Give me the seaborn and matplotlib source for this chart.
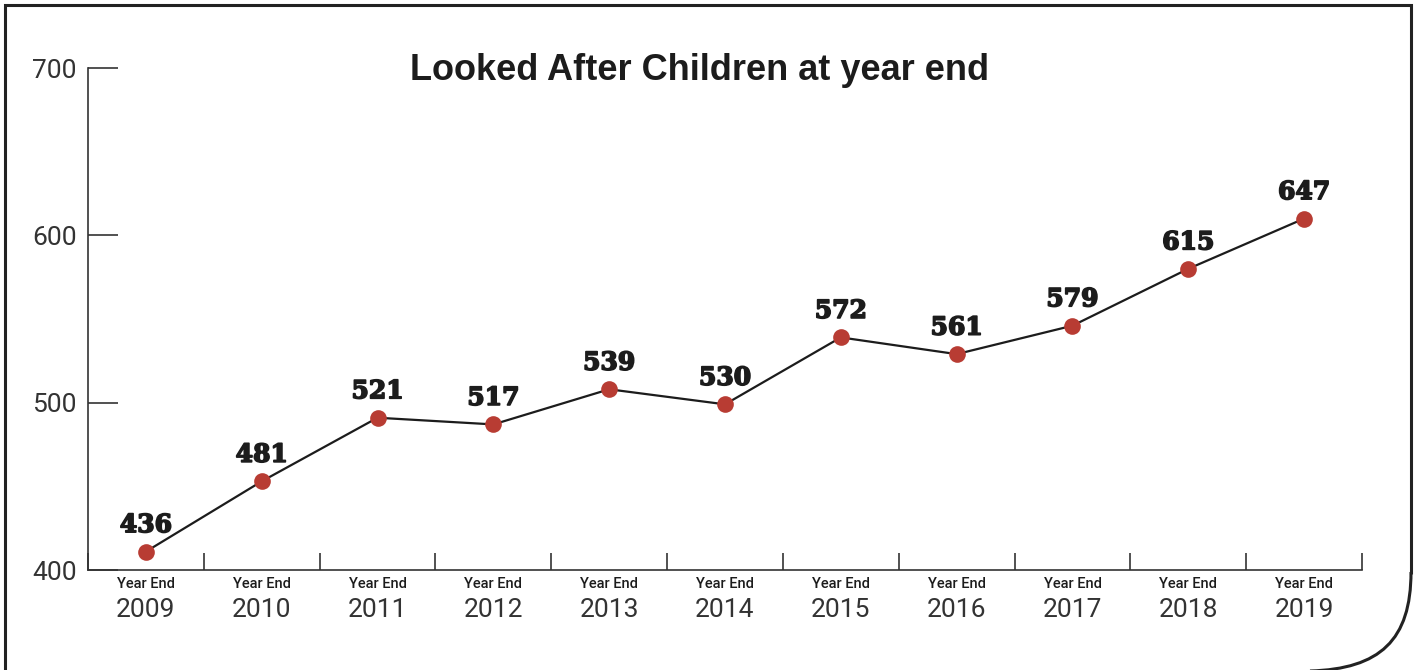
import seaborn as sns
import matplotlib.pyplot as plt
import matplotlib.patheffects as pe
import numpy as np
import pandas as pd
from matplotlib.path import Path
from matplotlib.patches import PathPatch
from matplotlib.lines import Line2D
from matplotlib.transforms import blended_transform_factory

# data
years = ['2009', '2010', '2011', '2012', '2013', '2014', '2015', '2016', '2017', '2018', '2019']
# where the dots sit on the axis
plotted = [411, 453, 491, 487, 508, 499, 539, 529, 546, 580, 610]
# the numbers printed above the dots
labels = ['436', '481', '521', '517', '539', '530', '572', '561', '579', '615', '647']
yticks = [400, 500, 600, 700]

df = pd.DataFrame({'pos': np.arange(len(years)), 'value': plotted})

sns.set_style('white')
plt.rcParams['font.family'] = ['Roboto', 'DejaVu Sans']

W, H = 1416, 670
fig = plt.figure(figsize=(W / 100, H / 100), dpi=100)
ax = fig.add_axes([88 / W, 1 - 570 / H, (1362 - 88) / W, (570 - 68) / H])

sns.lineplot(data=df, x='pos', y='value', ax=ax, color='#1c1c1c', linewidth=1.6,
             marker='o', markersize=12, markerfacecolor='#b83c33', markeredgewidth=0,
             zorder=3)

for i, lab in enumerate(labels):
    ax.annotate(lab, (i, plotted[i]), xytext=(0, 14), textcoords='offset points',
                ha='center', va='baseline', fontsize=18, fontweight='bold',
                family='DejaVu Serif', color='#1c1c1c',
                path_effects=[pe.withStroke(linewidth=1.2, foreground='#1c1c1c')])

ax.set_xlim(-0.5, len(years) - 0.5)
ax.set_ylim(400, 700)
ax.set_xlabel('')
ax.set_ylabel('')

# spines
for s in ['top', 'right']:
    ax.spines[s].set_visible(False)
for s in ['left', 'bottom']:
    ax.spines[s].set_color('#333333')
    ax.spines[s].set_linewidth(1.2)

# y ticks: short marks pointing into the plot
ax.set_yticks(yticks)
ax.set_yticklabels([str(v) for v in yticks])
ax.tick_params(axis='y', left=True, direction='in', length=21.5, width=1.2, color='#333333',
               pad=8, labelsize=19, labelcolor='#333333')

# x ticks: labels at the centres, marks at the boundaries
ax.set_xticks(np.arange(len(years)))
ax.set_xticklabels(years)
ax.set_xticks(np.arange(len(years) + 1) - 0.5, minor=True)
ax.tick_params(axis='x', which='major', bottom=True, length=0, pad=20, labelsize=19,
               labelcolor='#333333')
ax.tick_params(axis='x', which='minor', bottom=True, direction='in', length=12, width=1.2,
               color='#333333')

trans = blended_transform_factory(ax.transData, ax.transAxes)
for i in range(len(years)):
    ax.text(i, -0.027, 'Year End', transform=trans, ha='center', va='center',
            fontsize=10.5, fontweight='medium', color='#1c1c1c')

fig.text(700 / W, 1 - 70 / H, 'Looked After Children at year end', ha='center', va='center',
         fontsize=26, fontweight='bold', family=['Liberation Sans', 'DejaVu Sans'],
         color='#1c1c1c')

# outer frame: straight part plus rounded lower-right corner (figure pixels)
def fx(x):
    return x / W

def fy(y):
    return 1 - y / H

fig.lines.append(Line2D([fx(5), fx(5), fx(1411), fx(1411)],
                        [fy(H + 2), fy(5), fy(5), fy(574)],
                        transform=fig.transFigure, color='#222222', linewidth=2.2,
                        solid_joinstyle='miter', solid_capstyle='butt'))
verts = [(1411, 572), (1411, 640), (1380, 669), (1310, 671)]
codes = [Path.MOVETO, Path.CURVE4, Path.CURVE4, Path.CURVE4]
corner = PathPatch(Path([(fx(x), fy(y)) for x, y in verts], codes), facecolor='none',
                   edgecolor='#222222', linewidth=2.2, transform=fig.transFigure,
                   clip_on=False)
fig.patches.append(corner)

fig.savefig('out.png', dpi=100)
